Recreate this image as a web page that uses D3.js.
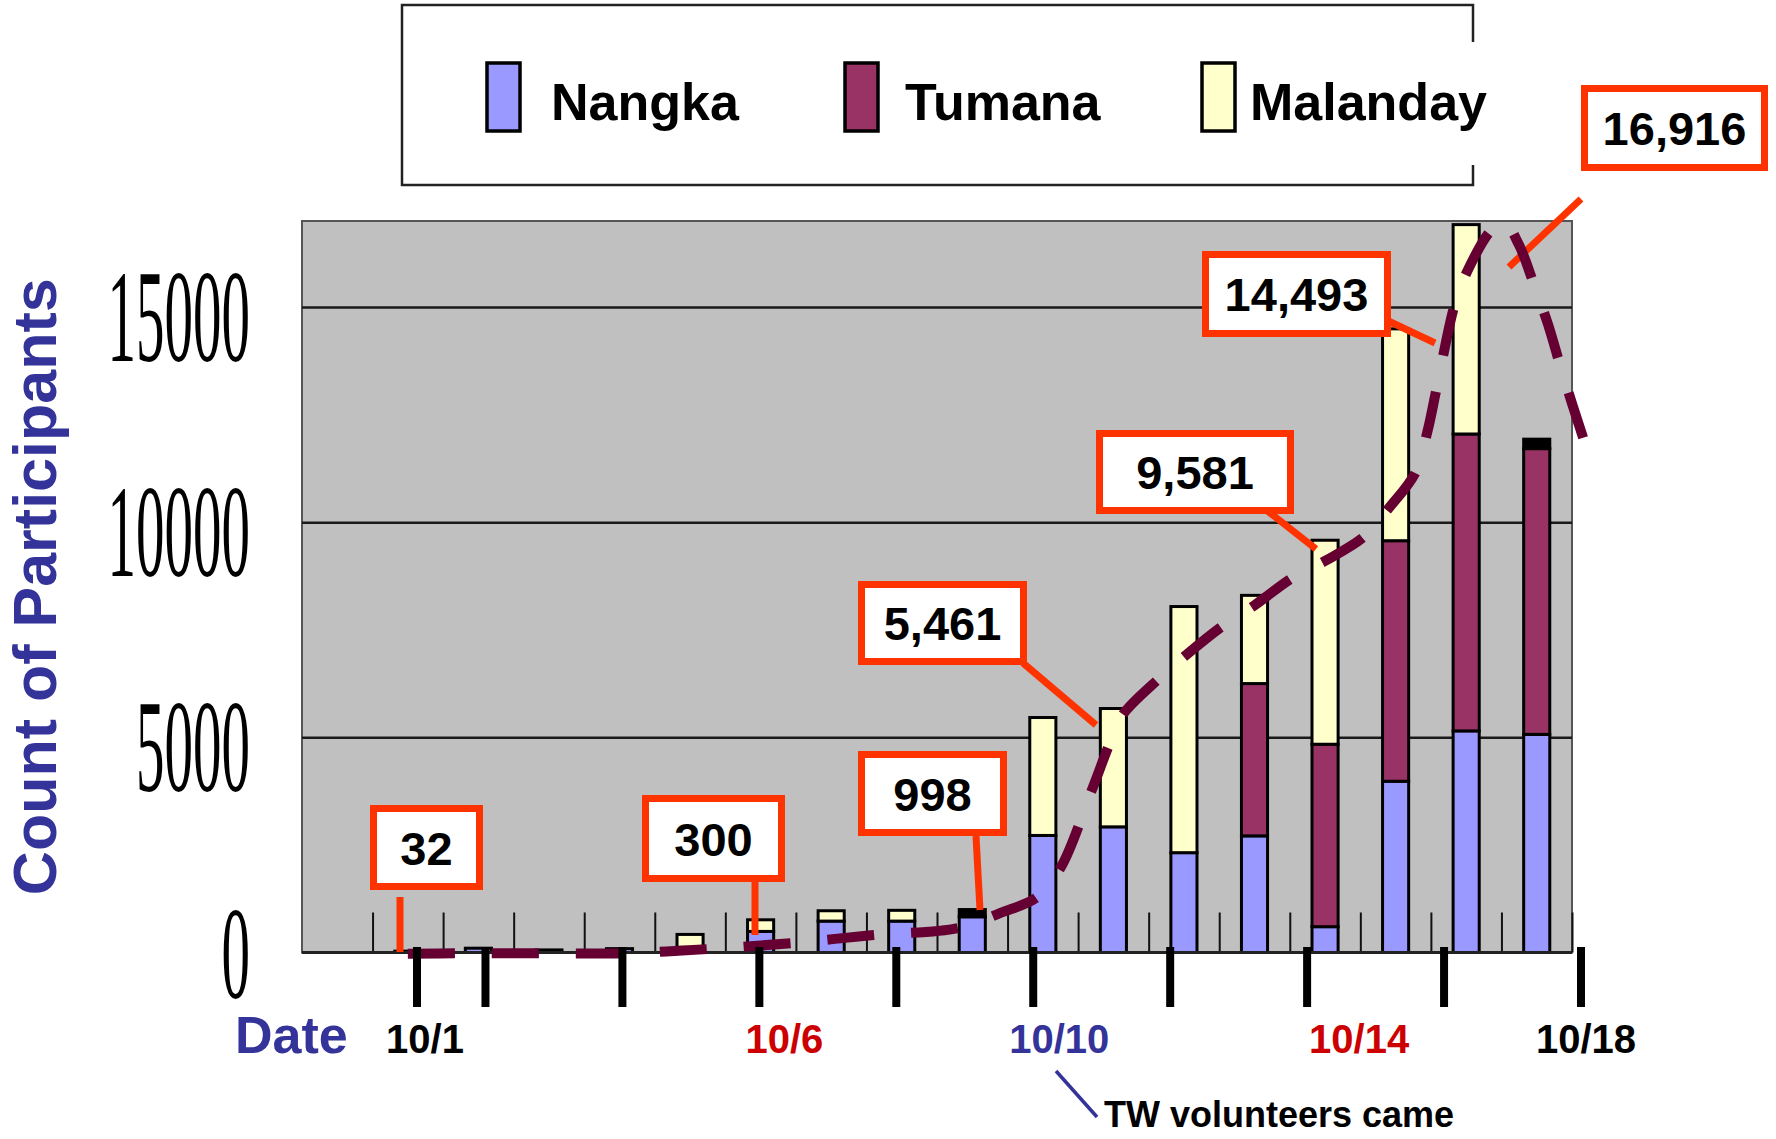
<!DOCTYPE html>
<html>
<head>
<meta charset="utf-8">
<title>Count of Participants</title>
<script src="https://cdn.jsdelivr.net/npm/d3@7"></script>
<style>
  body { margin: 0; background: #fff; }
  svg { display: block; }
  text { font-family: "Liberation Sans", Arial, sans-serif; font-weight: bold; }
  text.ylab { font-family: "Liberation Serif", "Times New Roman", serif; font-weight: normal; }
</style>
</head>
<body>
<div id="chart-area"></div>
<script>

// ---- Data ----
var days = ["9/30", "10/1", "10/2", "10/3", "10/4", "10/5", "10/6", "10/7", "10/8",
            "10/9", "10/10", "10/11", "10/12", "10/13", "10/14", "10/15", "10/16", "10/17"];

var nangka    = [0, 32, 100, 60, 90, 120, 490, 730, 730, 830, 2720, 2920, 2320, 2710, 600, 3980, 5150, 5070];
var tumana    = [0, 0, 0, 0, 0, 0, 0, 0, 0, 0, 0, 0, 0, 3540, 4240, 5590, 6900, 6640];
var malanday  = [0, 0, 0, 0, 0, 300, 270, 240, 250, 0, 2741, 2750, 5720, 2050, 4741, 4923, 4866, 0];
// black slivers on top of some bars (not in the legend)
var unlabeled = [0, 0, 0, 0, 0, 0, 0, 0, 0, 168, 0, 0, 0, 0, 0, 0, 0, 220];

var seriesNames = ["Nangka", "Tumana", "Malanday"];
var yTicks = [0, 5000, 10000, 15000];

// hand drawn date axis under the chart
var dateTickDays = [1, 2, 4, 6, 8, 10, 12, 14, 16, 18];
var dateLabels = ["10/1", "10/6", "10/10", "10/14", "10/18"];
var dateLabelDays = [1, 6, 10, 14, 18];

// call-out totals
var calloutTexts = ["32", "300", "998", "5,461", "9,581", "14,493", "16,916"];

// dashed trend curve (day slot position, count)
var trendPos = [1.5, 2.2, 3.4, 4.6, 5.75, 6.95, 8.1, 9.3, 9.9, 10.42, 10.75, 11.2, 11.45, 11.63,
                12.13, 12.55, 13.05, 13.5, 14.05, 14.5, 15.05, 15.4, 15.78, 15.95, 16.08, 16.35,
                16.55, 16.85, 17.03, 17.25, 17.47, 17.66, 17.84, 18.0, 18.2];
var trendVal = [-30, -20, -20, -15, 80, 220, 405, 570, 920, 1290, 1965, 3800, 4870, 5520,
                6340, 6940, 7590, 8070, 8720, 9100, 9660, 10320, 11150, 12100, 13100, 15130,
                15950, 16780, 16990, 16440, 15480, 14600, 13600, 12760, 11750];


// ---- Layout ----
var W = 1776, H = 1139;
var plot = { left: 302, right: 1572, top: 221, bottom: 952.5 };

var colors = { Nangka: "#9999ff", Tumana: "#993366", Malanday: "#ffffcc", Other: "#000000" };
var blue = "#333399", red = "#cc0000", orange = "#ff3300", plum = "#660033";

var svg = d3.select("#chart-area")
    .append("svg")
        .attr("width", W)
        .attr("height", H);

svg.append("rect")
    .attr("width", W).attr("height", H)
    .attr("fill", "#fff");

// X Scale
var x = d3.scaleBand()
    .domain(days)
    .range([plot.left, plot.right])
    .paddingInner(0.63)
    .paddingOuter(0.315);

// continuous slot position scale for the trend curve
var xPos = d3.scaleLinear()
    .domain([0, days.length])
    .range([plot.left, plot.right]);

// Y Scale
var y = d3.scaleLinear()
    .domain([0, 17000])
    .range([plot.bottom, plot.top]);

// Plot background
svg.append("rect")
    .attr("x", plot.left)
    .attr("y", plot.top)
    .attr("width", plot.right - plot.left)
    .attr("height", plot.bottom - plot.top)
    .attr("fill", "#c0c0c0")
    .attr("stroke", "#555")
    .attr("stroke-width", 2);

// Y axis Gridlines
var yGridlines = d3.axisLeft(y)
    .tickValues(yTicks.filter(function(d){ return d > 0; }))
    .tickSize(-(plot.right - plot.left))
    .tickFormat("");
var grid = svg.append("g")
    .attr("transform", "translate(" + plot.left + ",0)")
    .call(yGridlines);
grid.select(".domain").remove();
grid.selectAll("line")
    .attr("stroke", "#1a1a1a")
    .attr("stroke-width", 2.5);

// Category boundary ticks (pointing up into the plot)
var xTicks = d3.axisBottom(xPos)
    .tickValues(d3.range(1, days.length + 1))
    .tickSize(-40)
    .tickFormat("");
var xt = svg.append("g")
    .attr("transform", "translate(0," + plot.bottom + ")")
    .call(xTicks);
xt.select(".domain").remove();
xt.selectAll("line")
    .attr("stroke", "#111")
    .attr("stroke-width", 2);

// Stacked bars
var table = days.map(function(d, i){
    return { day: d, Nangka: nangka[i], Tumana: tumana[i], Malanday: malanday[i], Other: unlabeled[i] };
});
var layers = d3.stack().keys(["Nangka", "Tumana", "Malanday", "Other"])(table);

svg.append("g").selectAll("g")
    .data(layers)
    .enter().append("g")
        .attr("fill", function(d){ return colors[d.key]; })
    .selectAll("rect")
    .data(function(d){ return d.filter(function(v){ return v[1] - v[0] > 0; }); })
    .enter().append("rect")
        .attr("x", function(d){ return x(d.data.day); })
        .attr("y", function(d){ return y(d[1]); })
        .attr("width", x.bandwidth())
        .attr("height", function(d){ return y(d[0]) - y(d[1]); })
        .attr("stroke", "#000")
        .attr("stroke-width", 3);

// Baseline
svg.append("line")
    .attr("x1", plot.left).attr("x2", plot.right)
    .attr("y1", plot.bottom).attr("y2", plot.bottom)
    .attr("stroke", "#222")
    .attr("stroke-width", 3);

// Y tick labels (tall serif numbers)
var yLab = svg.append("g").selectAll("g")
    .data(yTicks)
    .enter().append("g")
        .attr("transform", function(d){ return "translate(250," + (y(d) + (d === 0 ? 1 : 9)) + ")"; });
yLab.append("text")
    .attr("class", "ylab")
    .attr("transform", "scale(1,2.3)")
    .attr("text-anchor", "end")
    .attr("dy", "0.34em")
    .attr("font-size", "57px")
    .attr("fill", "#000")
    .text(function(d){ return d; });

// Y Label
svg.append("text")
    .attr("transform", "translate(56," + ((plot.top + plot.bottom) / 2) + ") rotate(-90)")
    .attr("text-anchor", "middle")
    .attr("font-size", "61px")
    .attr("fill", blue)
    .text("Count of Participants");

// Legend
var legend = svg.append("g");
legend.append("rect")
    .attr("x", 402).attr("y", 5)
    .attr("width", 1071).attr("height", 180)
    .attr("fill", "#fff");
legend.append("path")
    .attr("d", "M1473,42 V5 H402 V185 H1473 V165")
    .attr("fill", "none")
    .attr("stroke", "#222")
    .attr("stroke-width", 2.5);

var legendX = [487, 845, 1202];
seriesNames.forEach(function(name, i){
    var row = legend.append("g")
        .attr("transform", "translate(" + legendX[i] + ",63)");
    row.append("rect")
        .attr("width", 33)
        .attr("height", 68)
        .attr("fill", colors[name])
        .attr("stroke", "#000")
        .attr("stroke-width", 3.5);
    row.append("text")
        .attr("x", i == 2 ? 48 : (i == 1 ? 60 : 64))
        .attr("y", 57)
        .attr("font-size", "52px")
        .attr("fill", "#000")
        .text(name);
});

// Call-out pointer lines
var calloutLines = [
    [400, 897, 400, 952], [755, 882, 755, 935], [976, 836, 980, 910],
    [1023, 663, 1096, 725], [1265, 509, 1316, 549], [1382, 318, 1435, 343],
    [1581, 199, 1509, 267]
];
svg.append("g").selectAll("line")
    .data(calloutLines)
    .enter().append("line")
        .attr("x1", function(d){ return d[0]; })
        .attr("y1", function(d){ return d[1]; })
        .attr("x2", function(d){ return d[2]; })
        .attr("y2", function(d){ return d[3]; })
        .attr("stroke", orange)
        .attr("stroke-width", 7);

// Call-out boxes
var calloutBoxes = [
    [370, 805, 113, 85], [642, 795, 143, 87], [858, 751, 149, 85],
    [858, 581, 169, 84], [1096, 430, 198, 84], [1202, 251, 189, 86],
    [1581, 85, 187, 86]
];
var boxes = svg.append("g").selectAll("g")
    .data(calloutTexts)
    .enter().append("g")
        .attr("transform", function(d, i){
            return "translate(" + calloutBoxes[i][0] + "," + calloutBoxes[i][1] + ")";
        });
boxes.append("rect")
    .attr("x", 3.5).attr("y", 3.5)
    .attr("width", function(d, i){ return calloutBoxes[i][2] - 7; })
    .attr("height", function(d, i){ return calloutBoxes[i][3] - 7; })
    .attr("fill", "#fff")
    .attr("stroke", orange)
    .attr("stroke-width", 7);
boxes.append("text")
    .attr("x", function(d, i){ return calloutBoxes[i][2] / 2; })
    .attr("y", function(d, i){ return calloutBoxes[i][3] / 2 + 17; })
    .attr("text-anchor", "middle")
    .attr("font-size", "47px")
    .attr("fill", "#000")
    .text(function(d){ return d; });

// Dashed trend curve
var trend = d3.line()
    .x(function(d){ return xPos(d[0]); })
    .y(function(d){ return y(d[1]); })
    .curve(d3.curveCatmullRom.alpha(0.5));
svg.append("path")
    .attr("d", trend(trendPos.map(function(p, i){ return [p, trendVal[i]]; })))
    .attr("fill", "none")
    .attr("stroke", plum)
    .attr("stroke-width", 10)
    .attr("stroke-dasharray", "47 37");

// Hand drawn date ticks under the chart
var dayX = d3.scaleLinear()
    .domain([1, 18])
    .range([417, 1581]);

svg.append("g").selectAll("line")
    .data(dateTickDays)
    .enter().append("line")
        .attr("x1", function(d){ return dayX(d); })
        .attr("x2", function(d){ return dayX(d); })
        .attr("y1", 947)
        .attr("y2", 1007)
        .attr("stroke", "#000")
        .attr("stroke-width", 8);

// Date labels
var labelNudge = [8, 25, 26, 52, 5];
var labelColor = ["#000", red, blue, red, "#000"];
svg.append("g").selectAll("text")
    .data(dateLabels)
    .enter().append("text")
        .attr("x", function(d, i){ return dayX(dateLabelDays[i]) + labelNudge[i]; })
        .attr("y", 1053)
        .attr("text-anchor", "middle")
        .attr("font-size", "40px")
        .attr("fill", function(d, i){ return labelColor[i]; })
        .text(function(d){ return d; });

svg.append("text")
    .attr("x", 235)
    .attr("y", 1053)
    .attr("font-size", "52px")
    .attr("fill", blue)
    .text("Date");

// Volunteers note
svg.append("line")
    .attr("x1", 1056).attr("y1", 1071)
    .attr("x2", 1097).attr("y2", 1117)
    .attr("stroke", blue)
    .attr("stroke-width", 3.5);
svg.append("text")
    .attr("x", 1104)
    .attr("y", 1127)
    .attr("font-size", "36px")
    .attr("fill", "#000")
    .text("TW volunteers came");

</script>
</body>
</html>
